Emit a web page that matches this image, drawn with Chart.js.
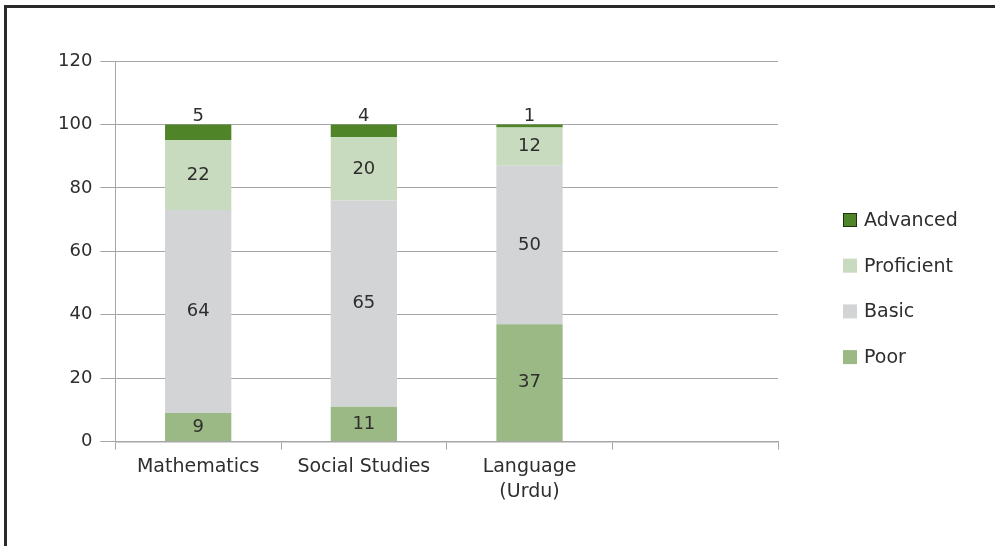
<script src="https://cdn.jsdelivr.net/npm/chart.js"></script>
<style>
  body {
    margin: 0;
    background: #fff;
  }

  .frame {
    position: absolute;
    left: 4px;
    top: 5px;
    width: 995px;
    height: 546px;
    border-top: 3px solid #2a2a2a;
    border-left: 3px solid #2a2a2a;
    pointer-events: none;
  }

  .wrap {
    position: absolute;
    left: 0;
    top: 0;
    width: 995px;
    height: 546px;
  }
</style>
<div class="wrap"><canvas id="chart"></canvas></div>
<div class="frame"></div>

<script>
  const subjects = ['Mathematics', 'Social Studies', ['Language', '(Urdu)'], ''];
  const poor = [9, 11, 37, null];
  const basic = [64, 65, 50, null];
  const proficient = [22, 20, 12, null];
  const advanced = [5, 4, 1, null];
  const yTicks = [0, 20, 40, 60, 80, 100, 120];

  const FONT = "'DejaVu Sans', sans-serif";
  const TEXT = '#2e2e2e';
  const GRID = '#a6a6a6';

  // value labels: inside the segment, except the top series which sits above the bar
  const valueLabels = {
    id: 'valueLabels',
    afterDatasetsDraw(chart) {
      const ctx = chart.ctx;
      ctx.save();
      ctx.font = '18px ' + FONT;
      ctx.fillStyle = TEXT;
      ctx.textAlign = 'center';
      ctx.textBaseline = 'middle';
      chart.data.datasets.forEach((ds, i) => {
        chart.getDatasetMeta(i).data.forEach((bar, j) => {
          const v = ds.data[j];
          if (v == null) return;
          if (ds.label === 'Advanced') {
            ctx.fillText(v, bar.x, bar.y - 8);
          } else {
            ctx.fillText(v, bar.x, (bar.y + bar.base) / 2);
          }
        });
      });
      ctx.restore();
    }
  };

  // legend on the right, top series first
  const sideLegend = {
    id: 'sideLegend',
    afterDraw(chart) {
      const ctx = chart.ctx;
      const x = chart.chartArea.right + 65;
      const rows = chart.data.datasets.slice().reverse();
      ctx.save();
      ctx.font = '19px ' + FONT;
      ctx.textBaseline = 'middle';
      rows.forEach((ds, i) => {
        const y = 220 + i * 45.7;
        ctx.fillStyle = ds.backgroundColor;
        ctx.fillRect(x, y - 7, 14, 14);
        if (ds.label === 'Advanced') {
          ctx.strokeStyle = '#1e3310';
          ctx.lineWidth = 1;
          ctx.strokeRect(x + 0.5, y - 6.5, 13, 13);
        }
        ctx.fillStyle = TEXT;
        ctx.fillText(ds.label, x + 21, y + 1);
      });
      ctx.restore();
    }
  };

  const ctx = document.getElementById('chart').getContext('2d');
  new Chart(ctx, {
    type: 'bar',
    data: {
      labels: subjects,
      datasets: [
        { label: 'Poor', data: poor, backgroundColor: '#9bb985' },
        { label: 'Basic', data: basic, backgroundColor: '#d3d4d6' },
        { label: 'Proficient', data: proficient, backgroundColor: '#c9dbbe' },
        { label: 'Advanced', data: advanced, backgroundColor: '#4f8428' }
      ]
    },
    options: {
      responsive: true,
      maintainAspectRatio: false,
      animation: false,
      categoryPercentage: 1,
      barPercentage: 0.4,
      layout: {
        padding: { left: 50, right: 217, top: 61, bottom: 37 }
      },
      plugins: {
        legend: { display: false },
        tooltip: { enabled: false }
      },
      scales: {
        x: {
          stacked: true,
          border: { color: GRID, width: 1.5 },
          grid: {
            offset: true,
            drawOnChartArea: false,
            color: GRID,
            tickLength: 8
          },
          ticks: {
            color: TEXT,
            font: { family: FONT, size: 19, lineHeight: 1.3 },
            padding: 5
          }
        },
        y: {
          stacked: true,
          min: 0,
          max: 120,
          afterBuildTicks(axis) {
            axis.ticks = yTicks.map(v => ({ value: v }));
          },
          border: { color: GRID, width: 1 },
          grid: {
            color: GRID,
            lineWidth: 1,
            tickLength: 15
          },
          ticks: {
            color: TEXT,
            font: { family: FONT, size: 18 },
            padding: 8
          }
        }
      }
    },
    plugins: [valueLabels, sideLegend]
  });
</script>
